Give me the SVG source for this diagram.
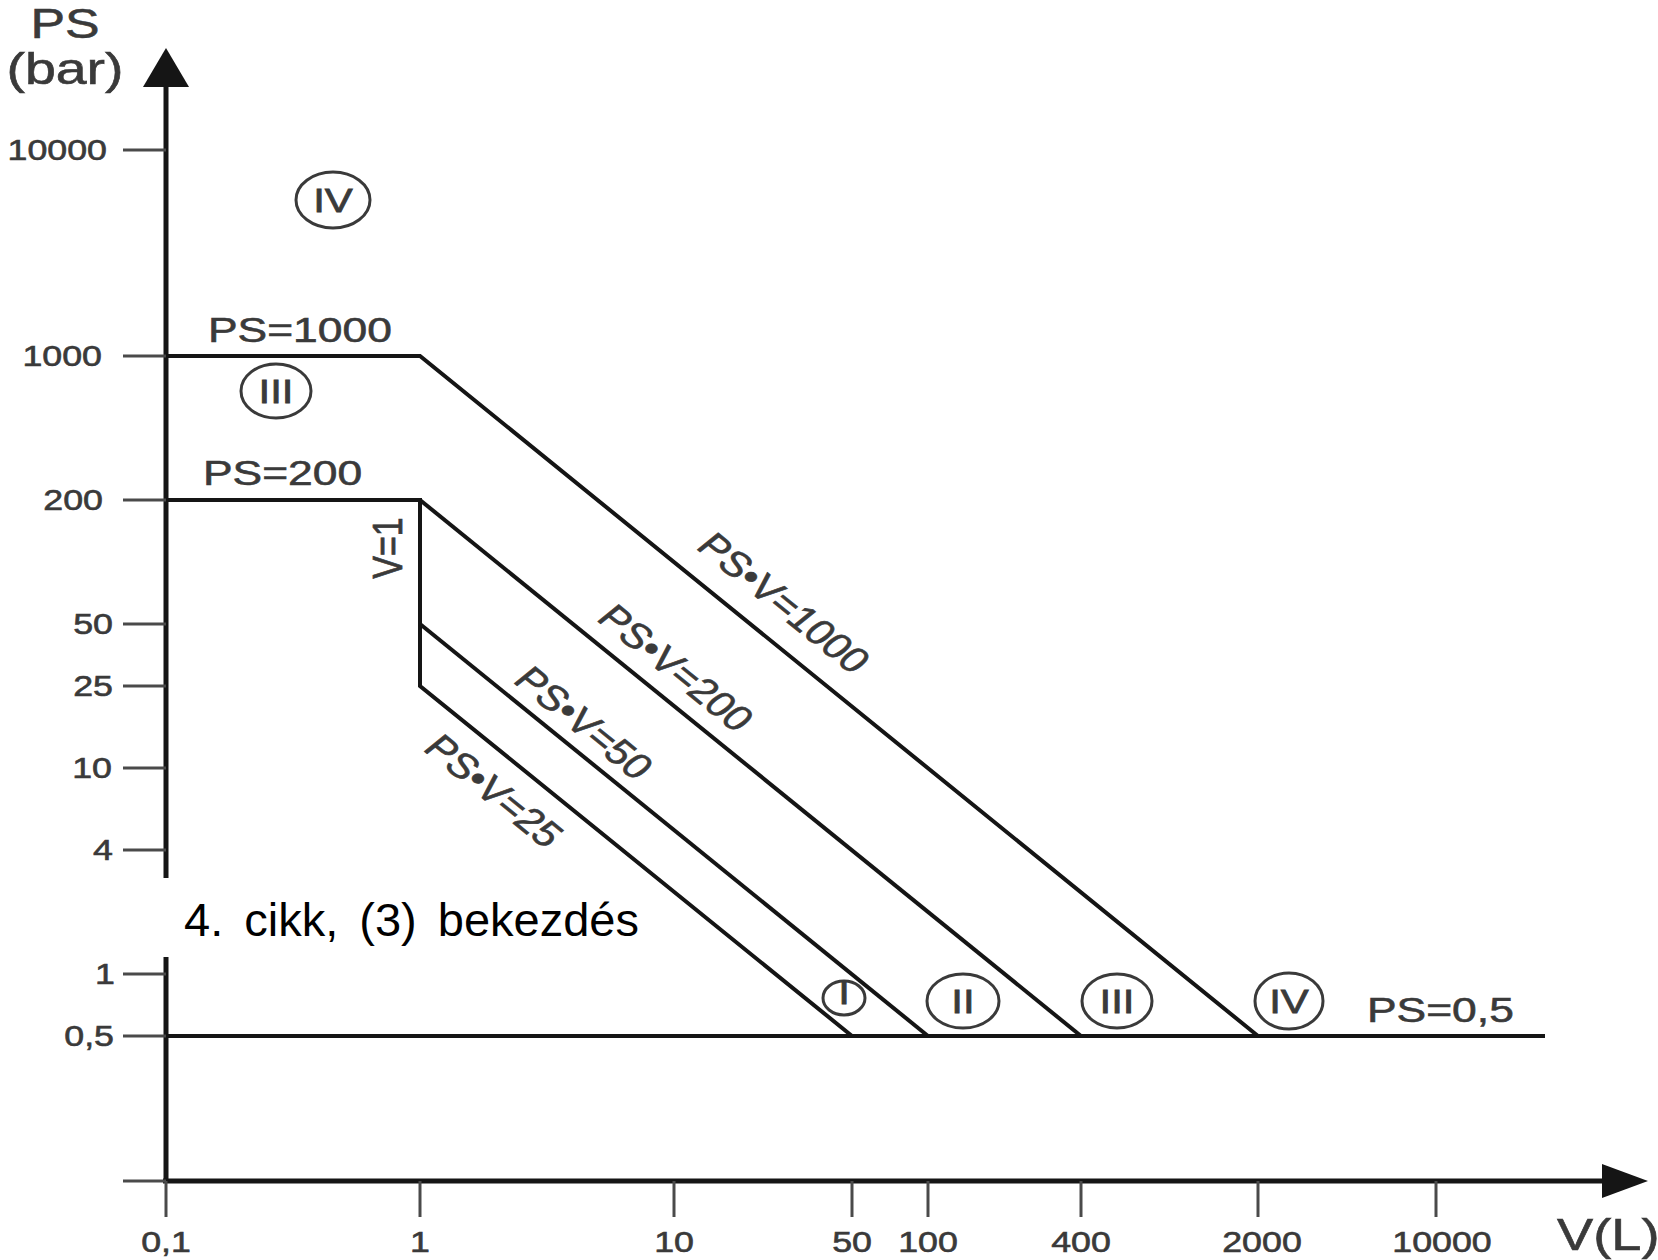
<svg xmlns="http://www.w3.org/2000/svg" width="1658" height="1260" viewBox="0 0 1658 1260">
  <style>
    .ax { stroke: #151515; stroke-width: 5; fill: none; }
    .tk { stroke: #4a4a4a; stroke-width: 3; fill: none; }
    .ln { stroke: #151515; stroke-width: 4; fill: none; stroke-linejoin: miter; }
    .lb { font-family: "Liberation Sans", Arial, sans-serif; fill: #3a3a3a; stroke: #3a3a3a; stroke-width: 0.6; }
    .ytl { font-size: 29px; text-anchor: end; }
    .xtl { font-size: 29px; text-anchor: middle; }
    .big { font-size: 36px; }
    .diag { font-size: 35px; text-anchor: middle; }
    .reg { stroke: #3a3a3a; stroke-width: 3; fill: none; }
    .rn { font-family: "Liberation Sans", Arial, sans-serif; fill: #3a3a3a; stroke: #3a3a3a; stroke-width: 0.8; font-size: 34px; text-anchor: middle; }
    .note { font-family: "Liberation Sans", Arial, sans-serif; fill: #000; font-size: 47px; word-spacing: 8px; }
  </style>
  <rect x="0" y="0" width="1658" height="1260" fill="#ffffff"/>

  <g id="axes">
    <line class="ax" x1="166" y1="85" x2="166" y2="1183"/>
    <polygon points="166,48 143,87 189,87" fill="#151515"/>
    <line class="ax" x1="163" y1="1181" x2="1604" y2="1181"/>
    <polygon points="1648,1181 1602,1164 1602,1198" fill="#151515"/>
    <line class="tk" x1="123" y1="1181" x2="166" y2="1181"/>
  </g>

  <g id="y-ticks">
    <line class="tk" x1="123" y1="150" x2="166" y2="150"/>
    <line class="tk" x1="123" y1="356" x2="166" y2="356"/>
    <line class="tk" x1="123" y1="500" x2="166" y2="500"/>
    <line class="tk" x1="123" y1="624" x2="166" y2="624"/>
    <line class="tk" x1="123" y1="686" x2="166" y2="686"/>
    <line class="tk" x1="123" y1="768" x2="166" y2="768"/>
    <line class="tk" x1="123" y1="850" x2="166" y2="850"/>
    <line class="tk" x1="123" y1="974" x2="166" y2="974"/>
    <line class="tk" x1="123" y1="1036" x2="166" y2="1036"/>
  </g>

  <g id="x-ticks">
    <line class="tk" x1="166" y1="1181" x2="166" y2="1217"/>
    <line class="tk" x1="420" y1="1181" x2="420" y2="1217"/>
    <line class="tk" x1="674" y1="1181" x2="674" y2="1217"/>
    <line class="tk" x1="852" y1="1181" x2="852" y2="1217"/>
    <line class="tk" x1="928" y1="1181" x2="928" y2="1217"/>
    <line class="tk" x1="1081" y1="1181" x2="1081" y2="1217"/>
    <line class="tk" x1="1258" y1="1181" x2="1258" y2="1217"/>
    <line class="tk" x1="1436" y1="1181" x2="1436" y2="1217"/>
  </g>

  <g id="connectors">
    <path class="ln" d="M166,356 H420 L1258,1036"/>
    <path class="ln" d="M166,500 H420 V686 L852,1036"/>
    <path class="ln" d="M420,500 L1081,1036"/>
    <path class="ln" d="M420,624 L928,1036"/>
    <path class="ln" d="M166,1036 H1545"/>
  </g>

  <g id="axis-titles" class="lb">
    <text transform="translate(65,38) scale(1.233,1)" font-size="42" text-anchor="middle">PS</text>
    <text transform="translate(65,84) scale(1.233,1)" font-size="45" text-anchor="middle">(bar)</text>
    <text transform="translate(1557,1250) scale(1.233,1)" font-size="44">V(L)</text>
  </g>

  <g id="y-labels" class="lb ytl">
    <text transform="translate(107,160) scale(1.233,1)">10000</text>
    <text transform="translate(102,366) scale(1.233,1)">1000</text>
    <text transform="translate(103,510) scale(1.233,1)">200</text>
    <text transform="translate(113,634) scale(1.233,1)">50</text>
    <text transform="translate(113,696) scale(1.233,1)">25</text>
    <text transform="translate(112,778) scale(1.233,1)">10</text>
    <text transform="translate(113,860) scale(1.233,1)">4</text>
    <text transform="translate(115,984) scale(1.233,1)">1</text>
    <text transform="translate(114,1046) scale(1.233,1)">0,5</text>
  </g>

  <g id="x-labels" class="lb xtl">
    <text transform="translate(166,1252) scale(1.233,1)">0,1</text>
    <text transform="translate(420,1252) scale(1.233,1)">1</text>
    <text transform="translate(674,1252) scale(1.233,1)">10</text>
    <text transform="translate(852,1252) scale(1.233,1)">50</text>
    <text transform="translate(928,1252) scale(1.233,1)">100</text>
    <text transform="translate(1081,1252) scale(1.233,1)">400</text>
    <text transform="translate(1262,1252) scale(1.233,1)">2000</text>
    <text transform="translate(1442,1252) scale(1.233,1)">10000</text>
  </g>

  <g id="limit-labels" class="lb big">
    <text transform="translate(208,342) scale(1.233,1)">PS=1000</text>
    <text transform="translate(203,485) scale(1.233,1)">PS=200</text>
    <text transform="translate(1367,1022) scale(1.233,1)">PS=0,5</text>
    <text transform="translate(387,548) scale(1.233,1) rotate(-90)" font-size="34" text-anchor="middle" dy="12">V=1</text>
  </g>

  <g id="diagonal-labels" class="lb diag">
    <text transform="translate(784,603) scale(1.233,1) rotate(45)" dy="12">PS•V=1000</text>
    <text transform="translate(676,668) scale(1.233,1) rotate(45)" dy="12">PS•V=200</text>
    <text transform="translate(584,723) scale(1.233,1) rotate(45)" dy="12">PS•V=50</text>
    <text transform="translate(494,791) scale(1.233,1) rotate(45)" dy="12">PS•V=25</text>
  </g>

  <g id="region-IV-top">
    <ellipse class="reg" cx="333" cy="200" rx="37" ry="28"/>
    <text class="rn" transform="translate(333,200) scale(1.233,1)" dy="12">IV</text>
  </g>
  <g id="region-III-left">
    <ellipse class="reg" cx="276" cy="391" rx="35" ry="27"/>
    <text class="rn" transform="translate(276,391) scale(1.233,1)" dy="12">III</text>
  </g>
  <g id="region-I">
    <ellipse class="reg" cx="844" cy="998" rx="21" ry="17"/>
    <text class="rn" transform="translate(844,998) scale(1.233,1)" font-size="17" dy="6">I</text>
  </g>
  <g id="region-II">
    <ellipse class="reg" cx="963" cy="1001" rx="36" ry="27"/>
    <text class="rn" transform="translate(963,1001) scale(1.233,1)" dy="12">II</text>
  </g>
  <g id="region-III">
    <ellipse class="reg" cx="1117" cy="1001" rx="35" ry="27"/>
    <text class="rn" transform="translate(1117,1001) scale(1.233,1)" dy="12">III</text>
  </g>
  <g id="region-IV">
    <ellipse class="reg" cx="1289" cy="1001" rx="34" ry="28"/>
    <text class="rn" transform="translate(1289,1001) scale(1.233,1)" dy="12">IV</text>
  </g>

  <g id="note">
    <rect x="163" y="878" width="480" height="79" fill="#ffffff"/>
    <text class="note" x="184" y="936">4. cikk, (3) bekezdés</text>
  </g>
</svg>
